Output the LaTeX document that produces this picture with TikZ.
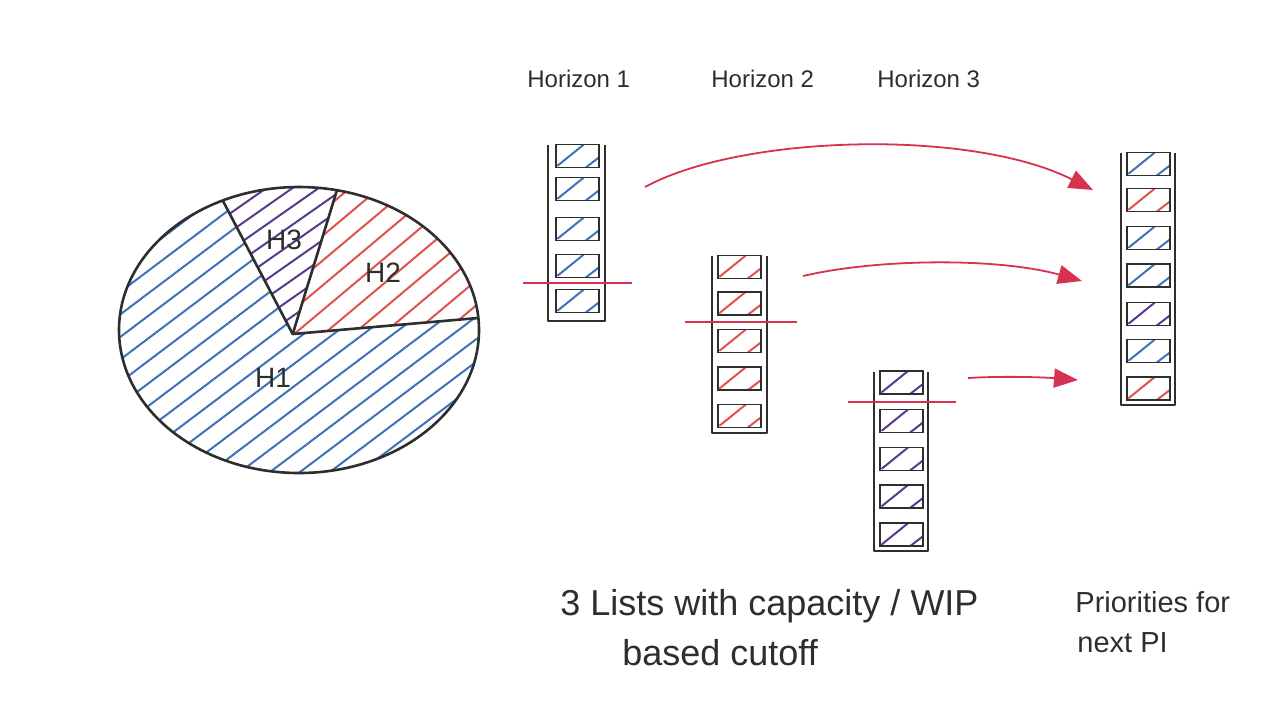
\documentclass[tikz,border=0pt]{standalone}
\usepackage{fontspec}
\setmainfont{Liberation Sans}
\usetikzlibrary{arrows.meta,calc}
\definecolor{ink}{HTML}{2E2E2E}
\definecolor{hblue}{HTML}{3F72B8}
\definecolor{hred}{HTML}{E0524F}
\definecolor{hpurple}{HTML}{5A3A8E}
\definecolor{arrred}{HTML}{D7324F}
\begin{document}
\begin{tikzpicture}[x=0.5pt,y=-0.5pt,
  slot/.style={draw=ink, line width=0.9pt, minimum width=21.5pt, minimum height=11.5pt,
    inner sep=0pt, outer sep=0pt,
    path picture={
      \draw[#1, line width=1pt, line cap=round]
        (path picture bounding box.south west) ++(1pt,1pt) -- ++(13pt,10.5pt);
      \draw[#1, line width=1pt, line cap=round]
        (path picture bounding box.south west) ++(15pt,0pt) -- ++(6.5pt,5pt);
    }},
  rail/.style={draw=ink, line width=1.1pt, line join=round},
  outline/.style={draw=ink, line width=1.3pt, line join=round},
  hatch/.style={line width=1pt},
  cutline/.style={draw=arrred, line width=0.9pt},
  arr/.style={draw=arrred, line width=0.9pt, -{Triangle[length=12pt,width=9.5pt]}},
  lbl/.style={text=ink, font=\fontsize{12}{14}\selectfont, anchor=base west, inner sep=0pt},
  pielbl/.style={text=ink, font=\fontsize{14}{16}\selectfont},
  bigtxt/.style={text=ink, font=\fontsize{18}{22}\selectfont, anchor=base west, inner sep=0pt},
  midtxt/.style={text=ink, font=\fontsize{14.5}{17}\selectfont, anchor=base west, inner sep=0pt}
]
\fill[white] (0,0) rectangle (1280,720);
\useasboundingbox (0,0) rectangle (1280,720);

% ---------------- pie chart ----------------
\coordinate (V) at (292.7,334);
\coordinate (A) at (223,201);
\coordinate (B) at (337,190);
\coordinate (C) at (478,318);
\coordinate (E) at (299,330);

% H3 (purple)
\begin{scope}
  \clip (E) ellipse [x radius=90pt, y radius=71.5pt];
  \clip (V) -- ($(V)!3!(A)$) -- ($(V)!3!(B)$) -- cycle;
  \begin{scope}[shift={(299,330)}, rotate=35]
    \foreach \k in {-20,...,20} \draw[hatch,hpurple] (-400,\k*15) -- (400,\k*15);
  \end{scope}
\end{scope}
% H2 (red)
\begin{scope}
  \clip (E) ellipse [x radius=90pt, y radius=71.5pt];
  \clip (V) -- ($(V)!3!(B)$) -- ($(V)!3!(C)$) -- cycle;
  \begin{scope}[shift={(299,330)}, rotate=40]
    \foreach \k in {-20,...,20} \draw[hatch,hred] (-400,\k*19) -- (400,\k*19);
  \end{scope}
\end{scope}
% H1 (blue)
\begin{scope}
  \clip (E) ellipse [x radius=90pt, y radius=71.5pt];
  \clip (V) -- ($(V)!3!(C)$) -- (848,900) -- (-300,900) -- (-300,-65) -- ($(V)!3!(A)$) -- cycle;
  \begin{scope}[shift={(299,330)}, rotate=37]
    \foreach \k in {-20,...,20} \draw[hatch,hblue] (-400,\k*18+6) -- (400,\k*18+6);
  \end{scope}
\end{scope}

\draw[outline] (E) ellipse [x radius=90pt, y radius=71.5pt];
\draw[outline] (A) -- (V) -- (C);
\draw[outline] (V) -- (B);

\node[pielbl] (lh3) at (284,240) {H3};
\node[pielbl] (lh2) at (383,273) {H2};
\node[pielbl] (lh1) at (273,378) {H1};

% ---------------- headings ----------------
\node[lbl] (hz1) at (527,87) {Horizon 1};
\node[lbl] (hz2) at (711,87) {Horizon 2};
\node[lbl] (hz3) at (877,87) {Horizon 3};

% ---------------- list 1 ----------------
\draw[rail] (547.7,145) -- (547.7,320.7) -- (605,320.7) -- (605,145);
\node[slot=hblue] (l1a) at (577.3,156) {};
\node[slot=hblue] (l1b) at (577.3,189) {};
\node[slot=hblue] (l1c) at (577.3,229) {};
\node[slot=hblue] (l1d) at (577.3,266) {};
\node[slot=hblue] (l1e) at (577.3,301) {};
\draw[cutline] (523,283) -- (632,283);

% ---------------- list 2 ----------------
\draw[rail] (711.7,256) -- (711.7,432.7) -- (766.7,432.7) -- (766.7,256);
\node[slot=hred] (l2a) at (739.3,267) {};
\node[slot=hred] (l2b) at (739.3,303.3) {};
\node[slot=hred] (l2c) at (739.3,341) {};
\node[slot=hred] (l2d) at (739.3,378.7) {};
\node[slot=hred] (l2e) at (739.3,416) {};
\draw[cutline] (685,321.7) -- (796.7,321.7);

% ---------------- list 3 ----------------
\draw[rail] (874,371.7) -- (874,550.7) -- (927.7,550.7) -- (927.7,371.7);
\node[slot=hpurple] (l3a) at (901.5,382.5) {};
\node[slot=hpurple] (l3b) at (901.5,421) {};
\node[slot=hpurple] (l3c) at (901.5,459) {};
\node[slot=hpurple] (l3d) at (901.5,496.5) {};
\node[slot=hpurple] (l3e) at (901.5,534.7) {};
\draw[cutline] (848,401.7) -- (956,401.7);

% ---------------- priority list ----------------
\draw[rail] (1120.7,152.7) -- (1120.7,405) -- (1175,405) -- (1175,152.7);
\node[slot=hblue]   (pa) at (1148.3,164) {};
\node[slot=hred]    (pb) at (1148.3,200) {};
\node[slot=hblue]   (pc) at (1148.3,238) {};
\node[slot=hblue]   (pd) at (1148.3,275.5) {};
\node[slot=hpurple] (pe) at (1148.3,314) {};
\node[slot=hblue]   (pf) at (1148.3,351) {};
\node[slot=hred]    (pg) at (1148.3,388.5) {};

% ---------------- arrows ----------------
\coordinate (a1s) at (645,187);
\coordinate (a1e) at (1093,190);
\coordinate (a2s) at (803,276);
\coordinate (a2e) at (1082,281);
\coordinate (a3s) at (968,378);
\coordinate (a3e) at (1078,380);
\draw[arr] (a1s) .. controls (740,135) and (970,128) .. (a1e);
\draw[arr] (a2s) .. controls (880,258) and (1000,258) .. (a2e);
\draw[arr] (a3s) .. controls (1000,376) and (1040,377) .. (a3e);

% ---------------- captions ----------------
\node[bigtxt] (cap1) at (560,615) {3 Lists with capacity / WIP};
\node[bigtxt] (cap2) at (622,665) {based cutoff};
\node[midtxt] (pri1) at (1075,612) {Priorities for};
\node[midtxt] (pri2) at (1077,652) {next PI};
\end{tikzpicture}
\end{document}
